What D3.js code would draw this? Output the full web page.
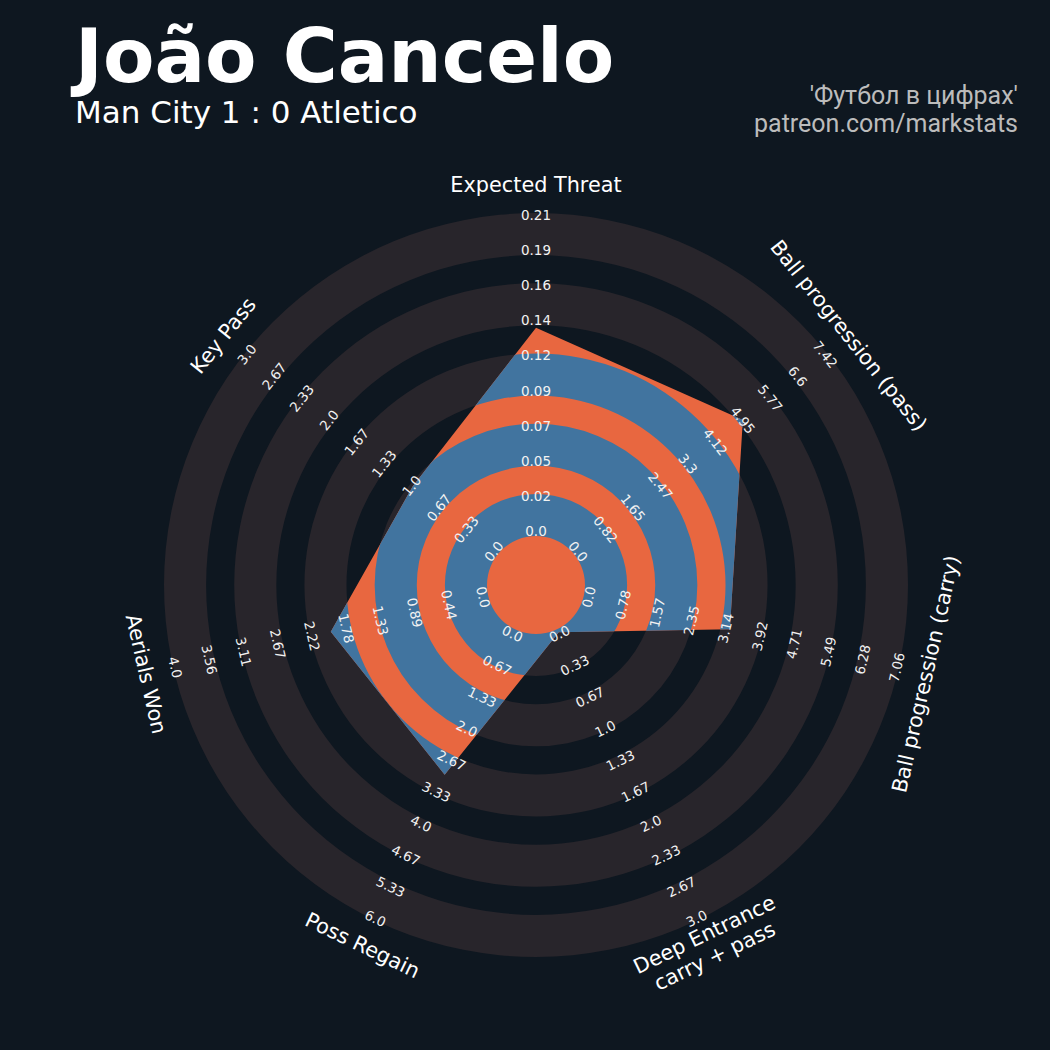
<!DOCTYPE html>
<html>
<head>
<meta charset="utf-8">
<script src="https://cdn.jsdelivr.net/npm/d3@7"></script>
<style>
  html, body { margin: 0; padding: 0; background: #0e1720; }
  svg { display: block; }
</style>
</head>
<body>
<div id="chart"></div>
<script>
// ---- data ----
const params = ["Expected Threat", "Ball progression (pass)", "Ball progression (carry)",
  "Deep Entrance\ncarry + pass", "Poss Regain", "Aerials Won", "Key Pass"];
const minRanges = [0, 0, 0, 0, 0, 0, 0];
const maxRanges = [0.21, 7.42, 7.06, 3.0, 6.0, 4.0, 3.0];
const values = [0.136, 4.98, 3.27, 0.0, 3.0, 2.0, 1.0];
const tickLabels = [
  ["0.0", "0.02", "0.05", "0.07", "0.09", "0.12", "0.14", "0.16", "0.19", "0.21"],
  ["0.0", "0.82", "1.65", "2.47", "3.3", "4.12", "4.95", "5.77", "6.6", "7.42"],
  ["0.0", "0.78", "1.57", "2.35", "3.14", "3.92", "4.71", "5.49", "6.28", "7.06"],
  ["0.0", "0.33", "0.67", "1.0", "1.33", "1.67", "2.0", "2.33", "2.67", "3.0"],
  ["0.0", "0.67", "1.33", "2.0", "2.67", "3.33", "4.0", "4.67", "5.33", "6.0"],
  ["0.0", "0.44", "0.89", "1.33", "1.78", "2.22", "2.67", "3.11", "3.56", "4.0"],
  ["0.0", "0.33", "0.67", "1.0", "1.33", "1.67", "2.0", "2.33", "2.67", "3.0"]
];
const title = "João Cancelo";
const subtitle = "Man City 1 : 0 Atletico";
const credit1 = "'Футбол в цифрах'";
const credit2 = "patreon.com/markstats";

// ---- styles / layout ----
const W = 1050, H = 1050;
const BG = "#0e1720", RING = "#28252b", ORANGE = "#e86740", BLUE = "#41749f";
const cx = 536, cy = 585;
const R0 = 52.5, R9 = 368.5, halfEdge = 3.5;
const nLevels = 10;

const svg = d3.select("#chart").append("svg")
  .attr("width", W).attr("height", H)
  .style("background", BG);

svg.append("rect").attr("width", W).attr("height", H).attr("fill", BG);

const g = svg.append("g").attr("transform", `translate(${cx},${cy})`);

const levelScale = d3.scaleLinear().domain([0, nLevels - 1]).range([R0, R9]);
const angleScale = d3.scaleLinear().domain([0, params.length]).range([0, 2 * Math.PI]);
const valueScales = maxRanges.map((m, i) => d3.scaleLinear().domain([minRanges[i], m]).range([R0, R9]));

// ring bands
const ringBands = d3.range(5).map(k => ({
  inner: levelScale(2 * k) - halfEdge,
  outer: levelScale(2 * k + 1) + halfEdge
}));
const arc = d3.arc().startAngle(0).endAngle(2 * Math.PI);

g.selectAll("path.ring").data(ringBands).join("path")
  .attr("class", "ring")
  .attr("d", d => arc({innerRadius: d.inner, outerRadius: d.outer}))
  .attr("fill", RING);

// radar polygon
const pts = values.map((v, i) => {
  const a = angleScale(i), r = valueScales[i](v);
  return [r * Math.sin(a), -r * Math.cos(a)];
});
const line = d3.line().curve(d3.curveLinearClosed);

svg.append("defs").append("clipPath").attr("id", "polyClip")
  .append("path").attr("d", line(pts));

g.append("path").attr("d", line(pts)).attr("fill", ORANGE);

g.append("g").attr("clip-path", "url(#polyClip)")
  .selectAll("path").data(ringBands).join("path")
  .attr("d", d => arc({innerRadius: d.inner, outerRadius: d.outer}))
  .attr("fill", BLUE);

// rotation helper
function rot(i) {
  let a = angleScale(i) * 180 / Math.PI;
  if (a > 90 && a < 270) a -= 180;
  else if (a >= 270) a -= 360;
  return a;
}

// range labels
params.forEach((p, i) => {
  const a = angleScale(i);
  tickLabels[i].forEach((t, j) => {
    const r = levelScale(j) + 1.5;
    const x = r * Math.sin(a), y = -r * Math.cos(a);
    g.append("text")
      .attr("transform", `translate(${x},${y}) rotate(${rot(i)})`)
      .attr("text-anchor", "middle")
      .attr("dominant-baseline", "central")
      .attr("font-family", "DejaVu Sans")
      .attr("font-size", 13.5)
      .attr("fill", "#f2f2f2")
      .text(t);
  });
});

// param labels
params.forEach((p, i) => {
  const a = angleScale(i), r = 400;
  const x = r * Math.sin(a), y = -r * Math.cos(a);
  const lines = p.split("\n");
  const lh = 1.15 * 20.8;
  const t = g.append("text")
    .attr("transform", `translate(${x},${y}) rotate(${rot(i)})`)
    .attr("text-anchor", "middle")
    .attr("font-family", "DejaVu Sans")
    .attr("font-size", 20.8)
    .attr("fill", "#ffffff");
  lines.forEach((l, k) => {
    t.append("tspan")
      .attr("x", 0)
      .attr("y", (k - (lines.length - 1) / 2) * lh)
      .attr("dominant-baseline", "central")
      .text(l);
  });
});

// titles
svg.append("text").attr("x", 75).attr("y", 82)
  .attr("font-family", "DejaVu Sans").attr("font-weight", "bold")
  .attr("font-size", 75).attr("fill", "#ffffff").text(title);
svg.append("text").attr("x", 75).attr("y", 123)
  .attr("font-family", "DejaVu Sans")
  .attr("font-size", 31).attr("fill", "#ffffff").text(subtitle);
svg.append("text").attr("x", 1018).attr("y", 104)
  .attr("text-anchor", "end").attr("font-family", "Roboto")
  .attr("font-size", 25).attr("fill", "#bcbcbc").text(credit1);
svg.append("text").attr("x", 1018).attr("y", 132)
  .attr("text-anchor", "end").attr("font-family", "Roboto")
  .attr("font-size", 25).attr("fill", "#bcbcbc").text(credit2);
</script>
</body>
</html>
